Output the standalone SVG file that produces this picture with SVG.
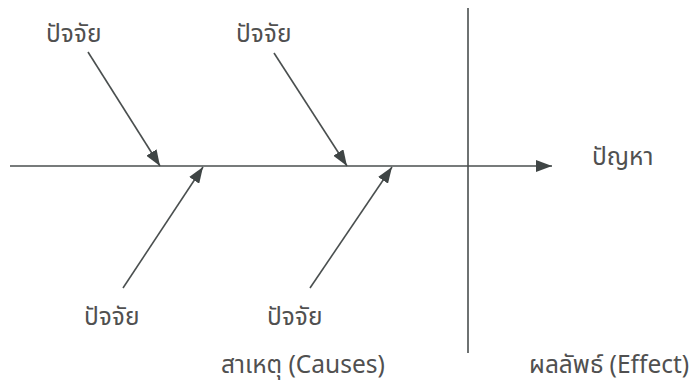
<svg xmlns="http://www.w3.org/2000/svg" width="692" height="386" viewBox="0 0 692 386">
<style>
.ln{stroke:#4a4f4f;stroke-width:1.6;fill:none}
.t{font-family:"Noto Sans Thai","Noto Sans","DejaVu Sans",sans-serif;font-size:24.5px;fill:#505050}
</style>
<defs>
<marker id="ah" viewBox="0 0 16 12" refX="16" refY="6" markerWidth="16" markerHeight="12" markerUnits="userSpaceOnUse" orient="auto">
<path d="M0,0 L16,6 L0,12 Z" fill="#3f4545"/>
</marker>
</defs>
<rect width="692" height="386" fill="#ffffff"/>
<g id="connectors">
<line class="ln" x1="10" y1="166" x2="552" y2="166" marker-end="url(#ah)"/>
<line class="ln" x1="468" y1="8" x2="468" y2="353"/>
<line class="ln" x1="88" y1="52" x2="160" y2="166" marker-end="url(#ah)"/>
<line class="ln" x1="274" y1="53" x2="347" y2="166" marker-end="url(#ah)"/>
<line class="ln" x1="123" y1="288" x2="203" y2="167" marker-end="url(#ah)"/>
<line class="ln" x1="310" y1="288" x2="392" y2="167" marker-end="url(#ah)"/>
</g>
<g id="factor1"><text class="t" x="46" y="42">ปัจจัย</text></g>
<g id="factor2"><text class="t" x="236" y="42">ปัจจัย</text></g>
<g id="factor3"><text class="t" x="84" y="325">ปัจจัย</text></g>
<g id="factor4"><text class="t" x="267" y="325">ปัจจัย</text></g>
<g id="problem"><text class="t" x="592" y="165">ปัญหา</text></g>
<g id="causes"><text class="t" x="221" y="373">สาเหตุ (Causes)</text></g>
<g id="effect"><text class="t" x="529" y="373">ผลลัพธ์ (Effect)</text></g>
</svg>
